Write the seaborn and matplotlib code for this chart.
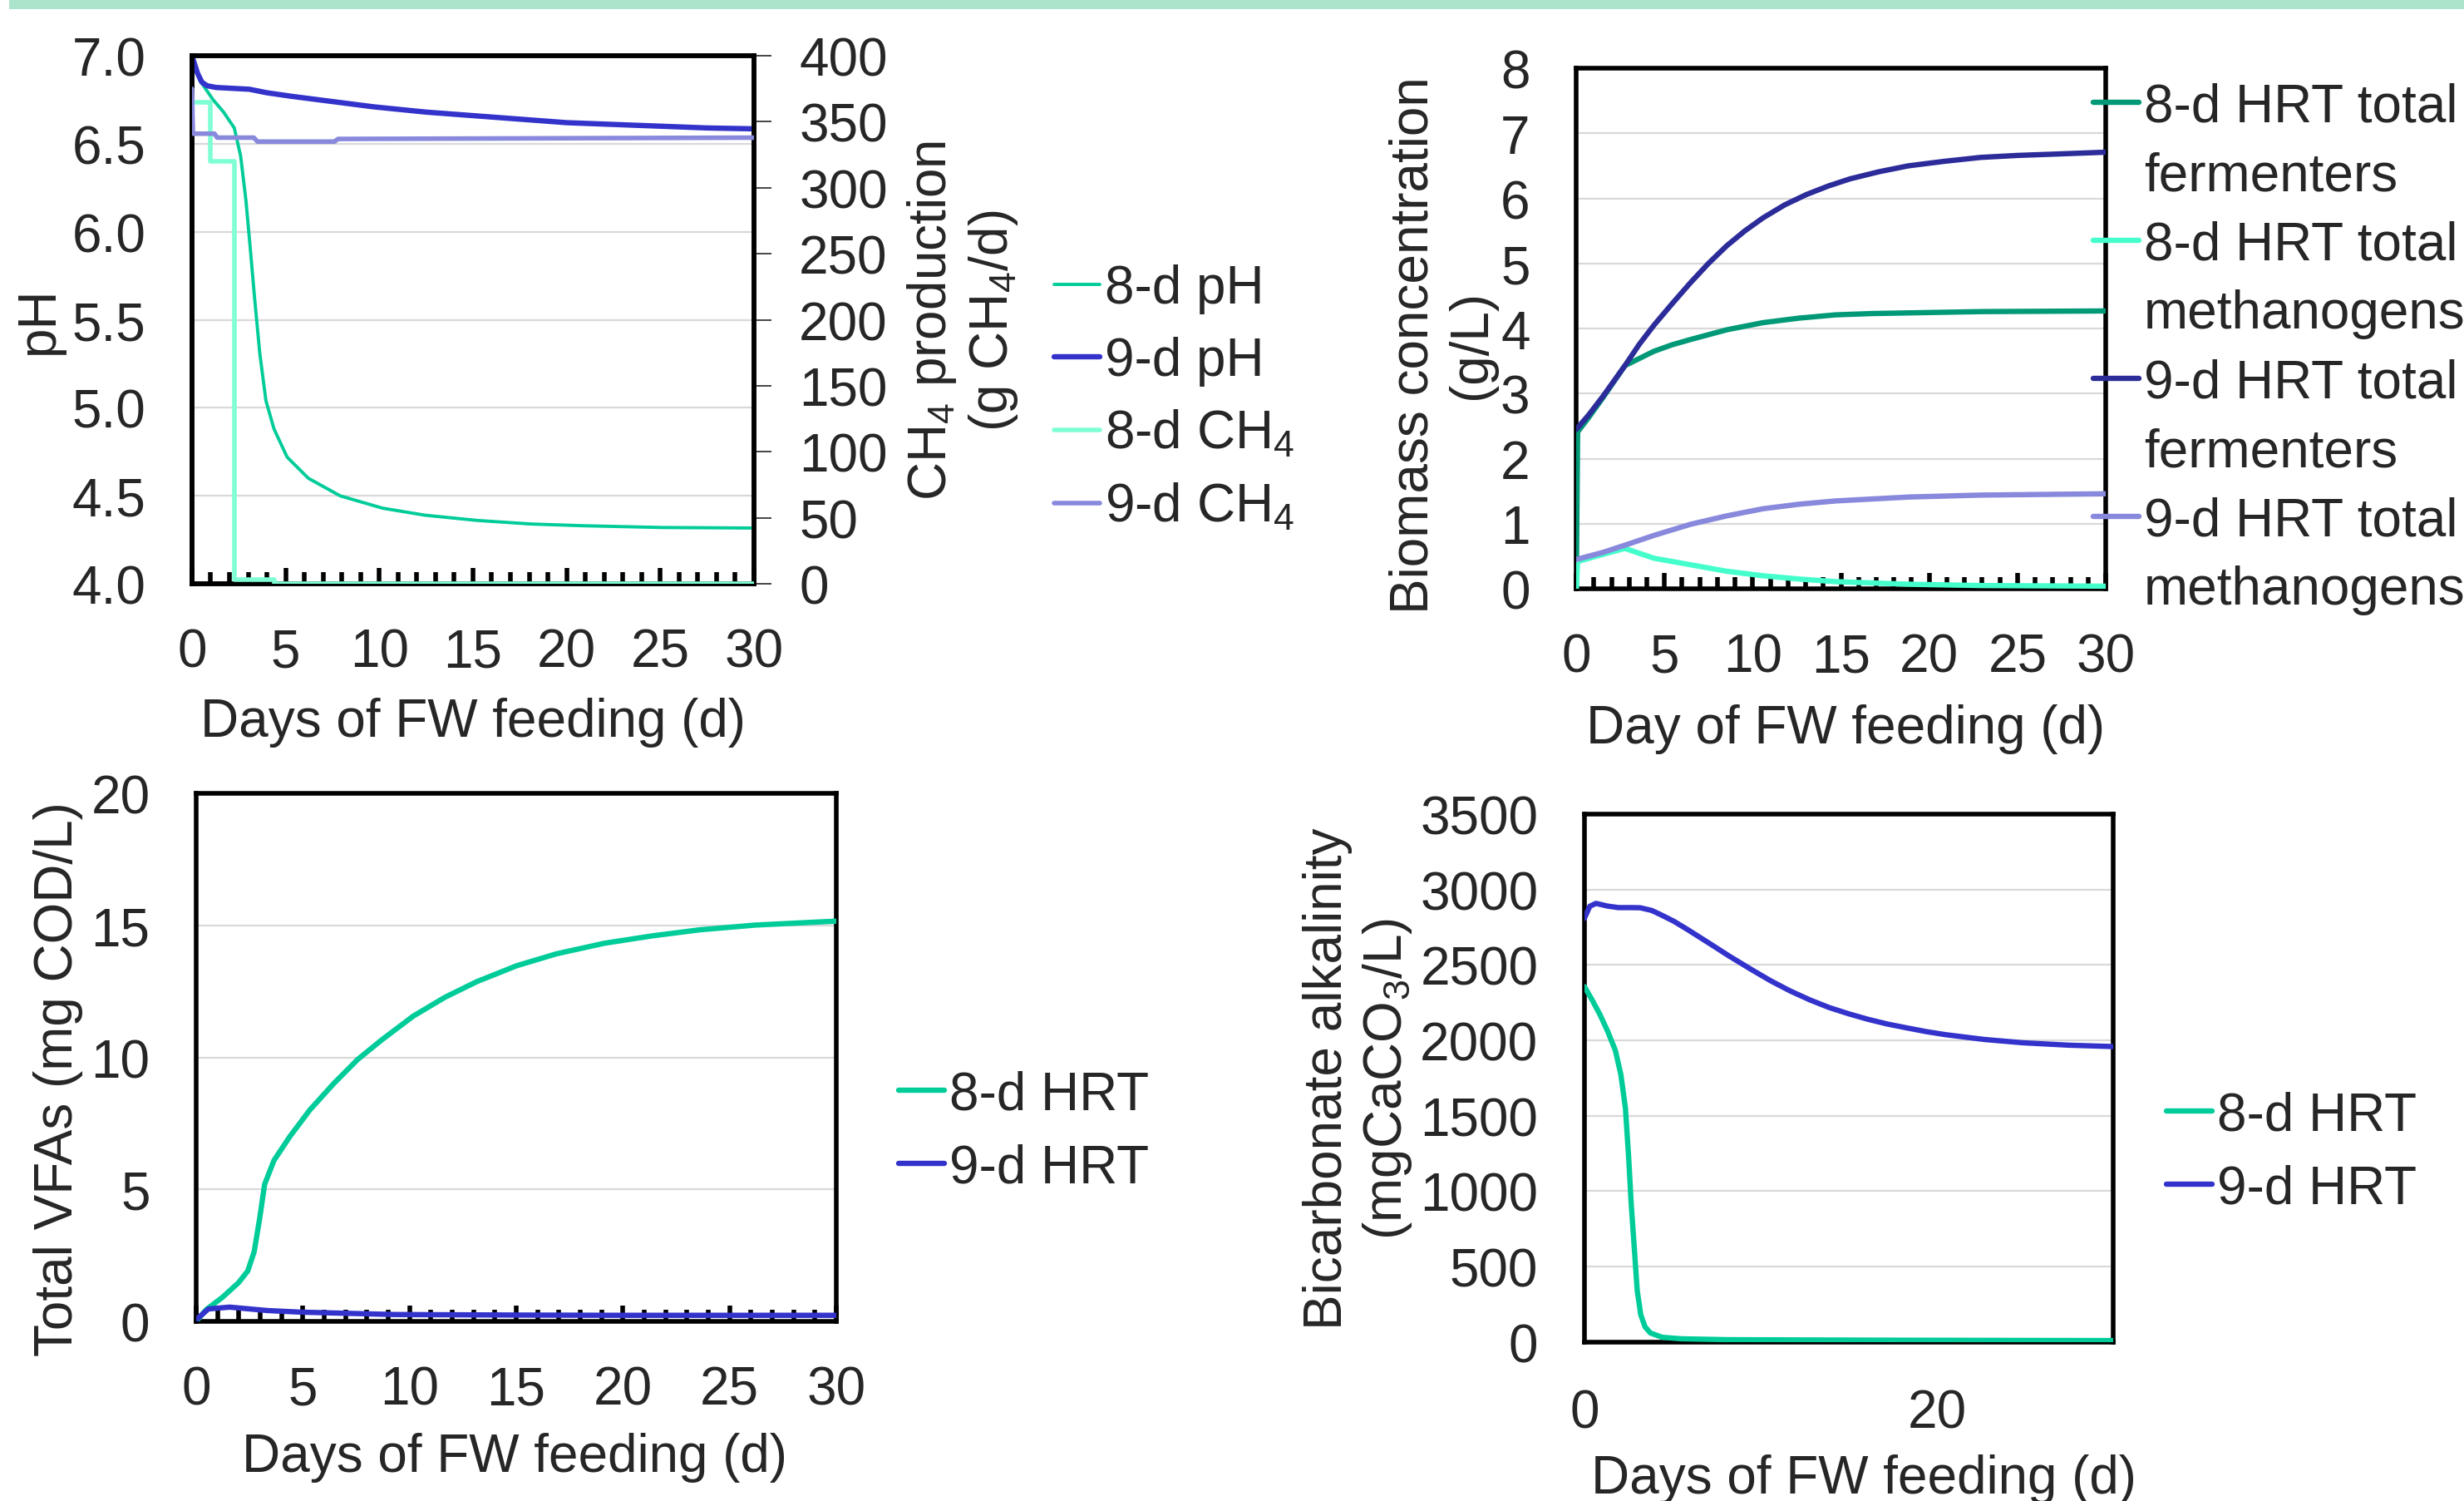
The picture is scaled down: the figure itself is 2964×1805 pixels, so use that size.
import matplotlib
matplotlib.use('Agg')
import matplotlib.pyplot as plt
import seaborn as sns
from matplotlib.lines import Line2D
from matplotlib.patches import Rectangle
from matplotlib.ticker import MultipleLocator, FormatStrFormatter

# ---- data ----
# pH and CH4 production
ph8_days = [0, 0.42, 1.13, 1.69, 2.26, 2.6, 2.88, 3.11, 3.33, 3.62, 3.95, 4.38, 5.08, 6.21, 7.91,
            10.17, 12.43, 15.25, 18.08, 20.9, 25.1, 30]
ph8 = [7.0, 6.86, 6.75, 6.68, 6.59, 6.43, 6.18, 5.91, 5.64, 5.31, 5.04, 4.88, 4.72, 4.60, 4.50,
       4.43, 4.39, 4.36, 4.34, 4.33, 4.32, 4.317]
ph9_days = [0, 0.15, 0.3, 0.53, 0.8, 1.29, 3.06, 4, 5.3, 7.5, 9.7, 12.5, 15, 17.5, 20, 22.5, 25, 27.5, 30]
ph9 = [7.0, 6.95, 6.9, 6.85, 6.83, 6.82, 6.81, 6.79, 6.77, 6.74, 6.71, 6.68, 6.66, 6.64, 6.62,
       6.61, 6.60, 6.59, 6.585]
ch4_8_days = [0.15, 1.0, 1.0, 2.25, 2.25, 4.4, 4.4, 30]
ch4_8 = [365, 365, 320, 320, 3, 3, 0, 0]
ch4_9_days = [0, 0.05, 1.2, 1.35, 3.3, 3.5, 7.6, 7.8, 30]
ch4_9 = [375, 341, 341, 338, 338, 335, 335, 337, 338]

# biomass (g/L)
f8_days = [0, 0.08, 0.7, 1.52, 2.76, 4.4, 5.43, 6.46, 8.52, 10.58, 12.63, 14.69, 16.75, 18.81, 22.92, 30]
f8 = [0, 2.41, 2.63, 2.94, 3.43, 3.65, 3.75, 3.83, 3.98, 4.09, 4.16, 4.21, 4.23, 4.24, 4.26, 4.27]
m8_days = [0, 0.08, 1.52, 2.76, 4.4, 6.46, 8.52, 10.58, 12.63, 14.69, 18.81, 22.92, 30]
m8 = [0, 0.42, 0.53, 0.62, 0.47, 0.37, 0.27, 0.20, 0.15, 0.11, 0.07, 0.05, 0.04]
f9_days = [0, 0.7, 1.52, 2.76, 3.58, 4.4, 5.43, 6.46, 7.49, 8.52, 9.55, 10.58, 11.81, 13.05, 14.28,
           15.51, 17.16, 18.81, 20.86, 22.92, 24.98, 27.04, 30]
f9 = [2.45, 2.67, 2.96, 3.43, 3.76, 4.05, 4.38, 4.70, 5.00, 5.27, 5.50, 5.70, 5.90, 6.06, 6.19,
      6.30, 6.41, 6.50, 6.57, 6.63, 6.66, 6.68, 6.71]
m9_days = [0, 1.52, 2.76, 4.4, 6.46, 8.52, 10.58, 12.63, 14.69, 18.81, 22.92, 30]
m9 = [0.45, 0.56, 0.67, 0.82, 0.99, 1.12, 1.23, 1.30, 1.35, 1.41, 1.44, 1.46]

# total VFAs
vfa8_days = [0, 0.48, 1.23, 1.98, 2.42, 2.72, 2.98, 3.21, 3.65, 4.4, 5.33, 6.45, 7.57, 8.68, 10.17,
             11.67, 13.16, 15.02, 16.88, 19.12, 21.36, 23.59, 26.2, 30]
vfa8 = [0, 0.45, 0.91, 1.46, 1.91, 2.64, 3.91, 5.19, 6.10, 7.01, 8.01, 9.01, 9.92, 10.65, 11.56,
        12.28, 12.87, 13.47, 13.92, 14.32, 14.60, 14.83, 15.01, 15.16]
vfa9_days = [0, 0.57, 1.56, 3.35, 4.9, 9.3, 15, 20, 30]
vfa9 = [0.06, 0.47, 0.54, 0.41, 0.35, 0.26, 0.24, 0.23, 0.23]

# bicarbonate alkalinity
alk8_days = [0, 0.44, 0.88, 1.32, 1.76, 2.07, 2.33, 2.51, 2.66, 2.85, 3.0, 3.2, 3.44, 3.74, 4.41,
             5.5, 8.15, 16.1, 30]
alk8 = [2357, 2268, 2172, 2061, 1933, 1774, 1551, 1232, 914, 596, 341, 182, 102, 61, 32,
        22, 16, 13, 10]
alk9_days = [0, 0.31, 0.66, 1.32, 1.93, 2.6, 3.16, 3.8, 4.3, 5.07, 5.85, 7.27, 8.2, 9.47, 10.57,
             11.67, 12.8, 13.88, 15.0, 16.08, 17.2, 18.28, 19.4, 20.48, 22.69, 24.89, 27.5, 30]
alk9 = [2809, 2889, 2908, 2890, 2880, 2880, 2879, 2862, 2835, 2790, 2735, 2630, 2560, 2470, 2395,
        2328, 2268, 2218, 2176, 2140, 2108, 2083, 2058, 2038, 2006, 1984, 1968, 1959]

TEAL = '#00CC99'
BLUE = '#3333CC'
AQUA = '#7FFFD4'
LAV = '#8888DD'
DKGREEN = '#009977'
MINT = '#44FFCC'
NAVY = '#2B2B99'

sns.set_style('white')
plt.rcParams['font.family'] = ['Liberation Sans', 'DejaVu Sans']
plt.rcParams['mathtext.fontset'] = 'custom'
plt.rcParams['mathtext.rm'] = 'Liberation Sans'
plt.rcParams['mathtext.it'] = 'Liberation Sans:italic'
plt.rcParams['font.size'] = 46
FS = 46
LW = 4.6

fig = plt.figure(figsize=(29.64, 18.06), dpi=100)
fig.add_artist(Rectangle((11 / 2964, 1 - 12 / 1806), 1, 12 / 1806,
                         transform=fig.transFigure, color='#ACE4CB', lw=0))


def frame(ax, inner_ticks=True, xstep=5):
    for s in ax.spines.values():
        s.set_visible(True)
        s.set_color('black')
        s.set_linewidth(4)
    ax.set_axisbelow(True)
    ax.grid(axis='y', color='#d9d9d9', linewidth=1.6)
    ax.grid(axis='x', visible=False)
    ax.tick_params(axis='y', left=True, length=0, pad=40, labelsize=FS)
    ax.set_xlim(0, 30)
    ax.xaxis.set_major_locator(MultipleLocator(xstep))
    if inner_ticks:
        ax.xaxis.set_minor_locator(MultipleLocator(1))
        ax.tick_params(axis='x', which='major', bottom=True, direction='in', length=14,
                       width=4, color='black', pad=38, labelsize=FS)
        ax.tick_params(axis='x', which='minor', bottom=True, direction='in', length=10,
                       width=4, color='black')
    else:
        ax.tick_params(axis='x', which='major', length=0, pad=40, labelsize=FS)


def line(ax, x, y, color, lw=LW):
    sns.lineplot(x=x, y=y, ax=ax, color=color, linewidth=lw, estimator=None,
                 sort=False, legend=False, zorder=3)
    return ax.lines[-1]


# ---- panel 1: pH / CH4 ----
ax1 = fig.add_axes([0.0779, 0.6107, 0.2281, 0.3516])
frame(ax1)
ax1.set_ylim(4.0, 7.0)
ax1.yaxis.set_major_locator(MultipleLocator(0.5))
ax1.yaxis.set_major_formatter(FormatStrFormatter('%.1f'))
h_ph8 = line(ax1, ph8_days, ph8, TEAL, 2.8)
h_ph9 = line(ax1, ph9_days, ph9, BLUE)
ax1.set_xlabel('Days of FW feeding (d)', fontsize=FS)
ax1.set_ylabel('pH', fontsize=FS)
ax1.xaxis.set_label_coords(0.5, -0.214)
ax1.yaxis.set_label_coords(-0.228, 0.5)

ax1b = ax1.twinx()
ax1b.set_ylim(0, 400)
ax1b.yaxis.set_major_locator(MultipleLocator(50))
ax1b.grid(False)
for s in ax1b.spines.values():
    s.set_visible(True)
    s.set_color('black')
    s.set_linewidth(4)
ax1b.tick_params(axis='y', right=True, direction='out', length=15, width=1.4,
                 color='#444444', pad=24, labelsize=FS)
h_c8 = line(ax1b, ch4_8_days, ch4_8, AQUA, 4.0)
h_c9 = line(ax1b, ch4_9_days, ch4_9, LAV, 4.0)
ax1b.set_ylabel('CH$_4$ production\n(g CH$_4$/d)', fontsize=FS)
ax1b.yaxis.set_label_coords(1.269, 0.5)
ax1b.legend([h_ph8, h_ph9, h_c8, h_c9],
            ['8-d pH', '9-d pH', '8-d CH$_4$', '9-d CH$_4$'],
            loc='center left', bbox_to_anchor=(1.534, 0.352), frameon=False,
            borderpad=0, borderaxespad=0, handlelength=0.86,
            handletextpad=0.1, labelspacing=0.42, fontsize=FS)

# ---- panel 2: biomass ----
ax2 = fig.add_axes([0.6397, 0.6074, 0.2149, 0.3466])
frame(ax2)
ax2.set_ylim(0, 8)
ax2.yaxis.set_major_locator(MultipleLocator(1))
h_f8 = line(ax2, f8_days, f8, DKGREEN)
h_m8 = line(ax2, m8_days, m8, MINT)
h_f9 = line(ax2, f9_days, f9, NAVY)
h_m9 = line(ax2, m9_days, m9, LAV)
ax2.set_xlabel('Day of FW feeding (d)', fontsize=FS)
ax2.set_ylabel('Biomass concentration\n(g/L)', fontsize=FS)
ax2.xaxis.set_label_coords(0.509, -0.220)
ax2.yaxis.set_label_coords(-0.151, 0.47)
blank = Line2D([], [], linestyle='none')
ax2.legend([h_f8, blank, h_m8, blank, h_f9, blank, h_m9, blank],
           ['8-d HRT total', 'fermenters', '8-d HRT total', 'methanogens',
            '9-d HRT total', 'fermenters', '9-d HRT total', 'methanogens'],
           loc='center left', bbox_to_anchor=(0.976, 0.462), frameon=False,
           borderpad=0, borderaxespad=0, handlelength=0.86,
           handletextpad=0.1, labelspacing=0.36, fontsize=FS)

# ---- panel 3: VFAs ----
ax3 = fig.add_axes([0.0796, 0.1196, 0.2598, 0.3516])
frame(ax3)
ax3.set_ylim(0, 20)
ax3.yaxis.set_major_locator(MultipleLocator(5))
h_v8 = line(ax3, vfa8_days, vfa8, TEAL)
h_v9 = line(ax3, vfa9_days, vfa9, BLUE)
ax3.set_xlabel('Days of FW feeding (d)', fontsize=FS)
ax3.set_ylabel('Total VFAs (mg COD/L)', fontsize=FS)
ax3.xaxis.set_label_coords(0.498, -0.209)
ax3.yaxis.set_label_coords(-0.177, 0.461)
ax3.legend([h_v8, h_v9], ['8-d HRT', '9-d HRT'],
           loc='center left', bbox_to_anchor=(1.097, 0.36), frameon=False,
           borderpad=0, borderaxespad=0, handlelength=0.86,
           handletextpad=0.1, labelspacing=0.43, fontsize=FS)

# ---- panel 4: alkalinity ----
ax4 = fig.add_axes([0.6430, 0.1058, 0.2146, 0.3516])
frame(ax4, inner_ticks=False, xstep=20)
ax4.set_ylim(0, 3500)
ax4.yaxis.set_major_locator(MultipleLocator(500))
h_a8 = line(ax4, alk8_days, alk8, TEAL)
h_a9 = line(ax4, alk9_days, alk9, BLUE)
ax4.set_xlabel('Days of FW feeding (d)', fontsize=FS)
ax4.set_ylabel('Bicarbonate alkalinity\n(mgCaCO$_3$/L)', fontsize=FS)
ax4.xaxis.set_label_coords(0.528, -0.211)
ax4.yaxis.set_label_coords(-0.322, 0.5)
ax4.legend([h_a8, h_a9], ['8-d HRT', '9-d HRT'],
           loc='center left', bbox_to_anchor=(1.1006, 0.36), frameon=False,
           borderpad=0, borderaxespad=0, handlelength=0.86,
           handletextpad=0.1, labelspacing=0.43, fontsize=FS)

fig.savefig('out.png', dpi=100)
